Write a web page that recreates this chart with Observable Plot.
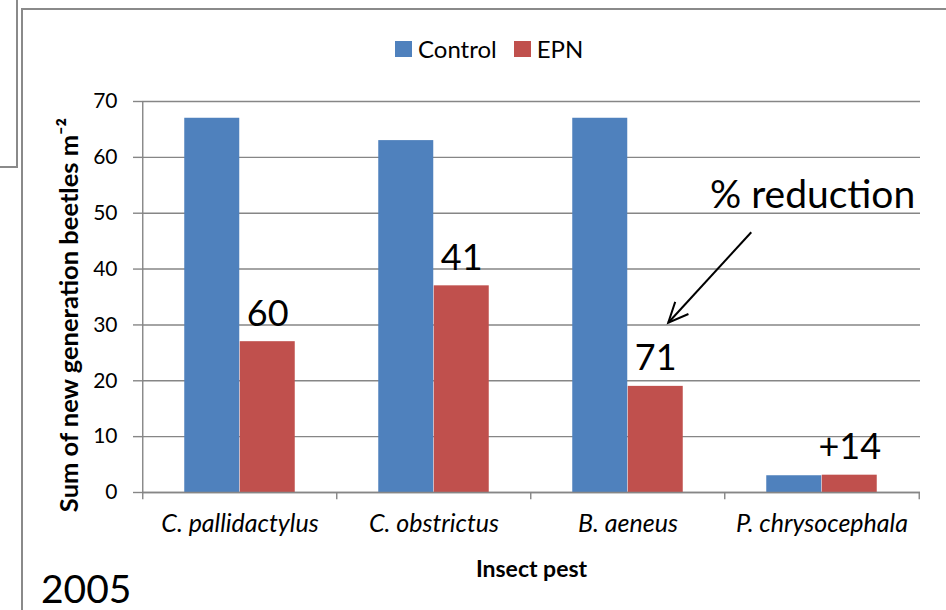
<!DOCTYPE html>
<html><head><meta charset="utf-8">
<script src="https://cdn.jsdelivr.net/npm/d3@7"></script>
<script src="https://cdn.jsdelivr.net/npm/@observablehq/plot@0.6"></script>
<style>
body{margin:0;background:#fff;}
#wrap{position:relative;width:946px;height:610px;overflow:hidden;font-family:Lato,"Open Sans",sans-serif;background:#fff;}
#chart{position:absolute;left:0;top:0;}
.ln{position:absolute;background:#8a8a8a;}
#legend{position:absolute;top:33px;left:395px;display:flex;align-items:center;font-size:24px;color:#000;line-height:32px;}
#legend .sw{width:17px;height:16px;display:inline-block;margin-right:6px;}
#legend .item{display:flex;align-items:center;margin-right:17px;}
#year{position:absolute;left:41px;top:566px;font-size:39px;line-height:44px;color:#000;}
</style></head><body>
<div id="wrap">
  <div id="chart"></div>
  <div class="ln" style="left:16px;top:0;width:2px;height:168px;"></div>
  <div class="ln" style="left:0;top:166px;width:18px;height:2px;"></div>
  <div class="ln" style="left:21px;top:8px;width:925px;height:2px;"></div>
  <div class="ln" style="left:21px;top:8px;width:2px;height:602px;"></div>
  <div id="legend"></div>
  <div id="year">2005</div>
</div>
<script>
const pests = ["C. pallidactylus", "C. obstrictus", "B. aeneus", "P. chrysocephala"];
const control = [67, 63, 67, 3.0];
const epn = [27, 37, 19, 3.1];
const reduction = ["60", "41", "71", "+14"];
const yTicks = [0, 10, 20, 30, 40, 50, 60, 70];
const series = ["Control", "EPN"];
const colors = ["#4F81BD", "#C0504D"];
const yTitle = "Sum of new generation beetles m\u207B\u00B2";
const xTitle = "Insect pest";
const noteText = "% reduction";

const rows = pests.map((p, i) => ({pest: p, control: control[i], epn: epn[i], red: reduction[i]}));

const W = 946, H = 610, ml = 142, mr = 26, mt = 101, mb = 118;
const step = (W - ml - mr) / pests.length;
const pad = 0.7147;
const bw = step * (1 - pad);
const grey = "#868686";

const plot = Plot.plot({
  width: W, height: H,
  marginLeft: ml, marginRight: mr, marginTop: mt, marginBottom: mb,
  style: {fontFamily: "Lato, 'Open Sans', sans-serif", background: "transparent", color: "#000", overflow: "visible"},
  x: {domain: pests, paddingInner: pad, paddingOuter: pad / 2, align: 0.5, label: null},
  y: {domain: [0, 70], label: null},
  marks: [
    Plot.gridY(yTicks, {stroke: grey, strokeOpacity: 1, strokeWidth: 1.4}),
    Plot.axisY(yTicks, {tickSize: 9, tickPadding: 16, fontSize: 21, stroke: grey, strokeWidth: 1.4, label: null}),
    Plot.axisX({tickSize: 0, tickPadding: 22, fontSize: 25, fontStyle: "italic", label: null}),
    Plot.barY(rows, {x: "pest", y: "control", fill: colors[0], dx: -bw / 2}),
    Plot.barY(rows, {x: "pest", y: "epn", fill: colors[1], dx: bw / 2}),
    Plot.ruleY([0], {stroke: grey, strokeWidth: 1.4}),
    Plot.ruleX(pests, {x: d => d, y1: -1.3, y2: 0, dx: -step / 2, stroke: grey, strokeWidth: 1.4}),
    Plot.ruleX([pests[0]], {x: d => d, y1: 0, y2: 70, dx: -step / 2, stroke: grey, strokeWidth: 1.4}),
    Plot.ruleX([pests[pests.length - 1]], {x: d => d, y1: -1.3, y2: 0, dx: step / 2, stroke: grey, strokeWidth: 1.4}),
    Plot.text(rows, {x: "pest", y: "epn", text: "red", dx: bw / 2, dy: -16, lineAnchor: "bottom", fontSize: 36, fill: "#000"}),
    Plot.text([noteText], {x: () => pests[3], y: () => 53.2, text: d => d, textAnchor: "end", lineAnchor: "middle", dx: step / 2 - 4, fontSize: 39, fill: "#000"}),
    Plot.text([yTitle], {frameAnchor: "left", text: d => d, textAnchor: "middle", rotate: -90, dx: -73, dy: 18, fontSize: 25.5, fontWeight: "bold", fill: "#000"}),
    Plot.text([xTitle], {frameAnchor: "bottom", text: d => d, textAnchor: "middle", dy: 77, lineAnchor: "middle", fontSize: 23, fontWeight: "bold", fill: "#000"})
  ]
});
document.getElementById("chart").appendChild(plot);

// arrow annotation pointing at the B. aeneus EPN bar
const xs = plot.scale("x"), ys = plot.scale("y");
const epnCenter = p => xs.apply(p) + xs.bandwidth / 2 + bw / 2;
const arrowTail = {pest: "B. aeneus", y: 46.5, off: 96};
const arrowHead = {pest: "B. aeneus", y: 30.3, off: 13};
const x1 = epnCenter(arrowTail.pest) + arrowTail.off, y1 = ys.apply(arrowTail.y);
const x2 = epnCenter(arrowHead.pest) + arrowHead.off, y2 = ys.apply(arrowHead.y);
const ang = Math.atan2(y2 - y1, x2 - x1), L = 22, spread = 0.42;
const svg = d3.select(plot);
const g = svg.append("g").attr("stroke", "#000").attr("stroke-width", 2).attr("fill", "none");
g.append("line").attr("x1", x1).attr("y1", y1).attr("x2", x2).attr("y2", y2);
g.append("polyline").attr("points", [
  [x2 - L * Math.cos(ang - spread), y2 - L * Math.sin(ang - spread)],
  [x2, y2],
  [x2 - L * Math.cos(ang + spread), y2 - L * Math.sin(ang + spread)]
].map(p => p.join(",")).join(" "));

// legend
const lg = d3.select("#legend");
series.forEach((s, i) => {
  const it = lg.append("div").attr("class", "item");
  it.append("span").attr("class", "sw").style("background", colors[i]);
  it.append("span").text(s);
});
</script>
</body></html>
